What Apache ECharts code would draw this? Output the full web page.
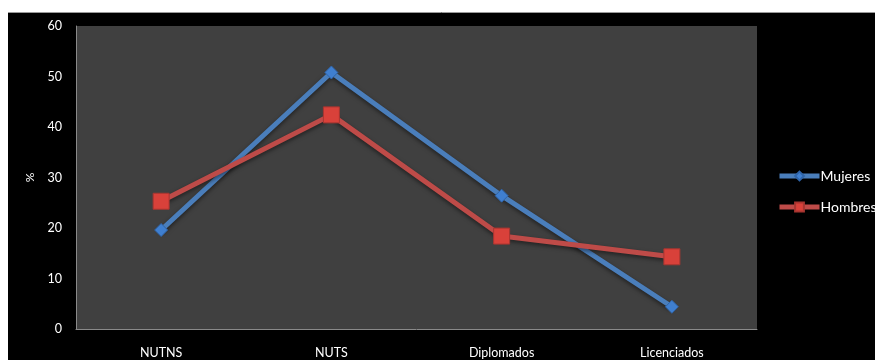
<!DOCTYPE html>
<html>
<head>
<meta charset="utf-8">
<script src="https://cdn.jsdelivr.net/npm/echarts@6/dist/echarts.min.js"></script>
<style>
  html, body { margin: 0; padding: 0; background: #ffffff; }
  #chart { width: 875px; height: 360px; }
</style>
</head>
<body>
<div id="chart"></div>
<script>
// Education levels and percentages by sex
const categories = ['NUTNS', 'NUTS', 'Diplomados', 'Licenciados'];
const mujeres = [19.6, 50.8, 26.4, 4.4];
const hombres = [25.3, 42.4, 18.4, 14.3];
const yTicks = { min: 0, max: 60, interval: 10 };

const chart = echarts.init(document.getElementById('chart'));
const font = 'Lato, "Open Sans", sans-serif';

chart.setOption({
  backgroundColor: '#ffffff',
  animation: false,
  graphic: [
    { type: 'rect', z: -10, shape: { x: 8, y: 12, width: 867, height: 348 },
      style: { fill: '#000000' } },
    { type: 'line', z: -9, shape: { x1: 8, y1: 12.5, x2: 875, y2: 12.5 },
      style: { stroke: '#9a9a9a', lineWidth: 1 } }
  ],
  grid: {
    left: 76, right: 118, top: 26, bottom: 31,
    show: true, backgroundColor: '#404040', borderWidth: 0
  },
  legend: {
    orient: 'vertical',
    left: 772, top: 164,
    itemWidth: 40, itemHeight: 11, itemGap: 17,
    lineStyle: { width: 5 },
    textStyle: { color: '#ffffff', fontFamily: font, fontSize: 14, padding: [0, 0, 0, -4] },
    data: ['Mujeres', 'Hombres']
  },
  xAxis: {
    type: 'category',
    data: categories,
    boundaryGap: true,
    axisLine: { lineStyle: { color: '#8a8a8a', width: 1 } },
    axisTick: { show: false },
    axisLabel: { color: '#ffffff', fontFamily: font, fontSize: 12.5, margin: 17 }
  },
  yAxis: {
    type: 'value',
    min: yTicks.min, max: yTicks.max, interval: yTicks.interval,
    name: '%',
    nameLocation: 'middle',
    nameGap: 40,
    nameRotate: 90,
    nameTextStyle: { color: '#ffffff', fontFamily: font, fontSize: 12 },
    axisLine: { show: true, lineStyle: { color: '#8a8a8a', width: 1 } },
    axisTick: { show: false },
    splitLine: { show: false },
    axisLabel: { color: '#ffffff', fontFamily: font, fontSize: 12.5, margin: 14 }
  },
  series: [
    {
      name: 'Mujeres',
      type: 'line',
      data: mujeres,
      symbol: 'diamond',
      symbolSize: 13,
      lineStyle: { color: '#4a7ebb', width: 5, shadowColor: 'rgba(0,0,0,0.5)', shadowBlur: 4, shadowOffsetY: 2 },
      itemStyle: { color: '#3f7fd0', borderColor: '#2f64a8', borderWidth: 1 }
    },
    {
      name: 'Hombres',
      type: 'line',
      data: hombres,
      symbol: 'rect',
      symbolSize: 16,
      lineStyle: { color: '#be4b48', width: 5, shadowColor: 'rgba(0,0,0,0.5)', shadowBlur: 4, shadowOffsetY: 2 },
      itemStyle: { color: '#d9413a', borderColor: '#a83530', borderWidth: 1 }
    }
  ]
});
</script>
</body>
</html>
